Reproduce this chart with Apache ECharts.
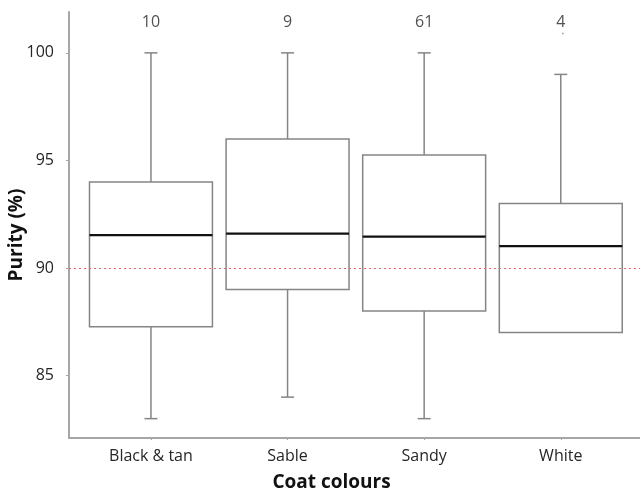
<!DOCTYPE html>
<html><head><meta charset="utf-8">
<script src="https://cdn.jsdelivr.net/npm/echarts@6/dist/echarts.min.js"></script>
<style>html,body{margin:0;padding:0;background:#fff}#c{width:640px;height:494px}</style>
</head><body><div id="c"></div>
<script>
const categories = ['Black & tan', 'Sable', 'Sandy', 'White'];
const counts = [10, 9, 61, 4];
const whiskerLow = [83, 84, 83, 87];
const q1 = [87.27, 89.0, 88.0, 87.0];
const median = [91.53, 91.6, 91.46, 91.02];
const q3 = [94.0, 96.0, 95.25, 93.0];
const whiskerHigh = [100, 100, 100, 99];
const yTicks = [85, 90, 95, 100];
const referenceLine = 90;
const countLabelLevel = 101.41;
const strayPoint = [[4.015, 100.9]];

const FONT = 'Open Sans';
const catPositions = categories.map((c, i) => i + 1);
const boxData = categories.map((c, i) => [i + 1, whiskerLow[i], q1[i], median[i], q3[i], whiskerHigh[i]]);

function renderBox(params, api) {
  const x = api.value(0);
  const band = api.size([1, 0])[0];
  const half = band * 0.45;
  const capHalf = 6.5;
  const low = api.value(1), lq = api.value(2), med = api.value(3), uq = api.value(4), high = api.value(5);
  const pLow = api.coord([x, low]);
  const pQ1 = api.coord([x, lq]);
  const pMed = api.coord([x, med]);
  const pQ3 = api.coord([x, uq]);
  const pHigh = api.coord([x, high]);
  const cx = pMed[0];
  const grey = { stroke: '#858585', lineWidth: 1.5, fill: null };
  const children = [
    { type: 'rect', shape: { x: cx - half, y: pQ3[1], width: 2 * half, height: pQ1[1] - pQ3[1] }, style: { fill: 'rgba(255,255,255,0)', stroke: '#858585', lineWidth: 1.5 } }
  ];
  if (high > uq) {
    children.push({ type: 'line', shape: { x1: cx, y1: pQ3[1], x2: cx, y2: pHigh[1] }, style: grey });
    children.push({ type: 'line', shape: { x1: cx - capHalf, y1: pHigh[1], x2: cx + capHalf, y2: pHigh[1] }, style: grey });
  }
  if (low < lq) {
    children.push({ type: 'line', shape: { x1: cx, y1: pQ1[1], x2: cx, y2: pLow[1] }, style: grey });
    children.push({ type: 'line', shape: { x1: cx - capHalf, y1: pLow[1], x2: cx + capHalf, y2: pLow[1] }, style: grey });
  }
  children.push({ type: 'line', shape: { x1: cx - half, y1: pMed[1], x2: cx + half, y2: pMed[1] }, style: { stroke: '#111', lineWidth: 2.2 } });
  return { type: 'group', children };
}

const chart = echarts.init(document.getElementById('c'), null, { renderer: 'canvas' });
chart.setOption({
  animation: false,
  backgroundColor: '#fff',
  grid: { left: 69, right: 0, top: 12, bottom: 56, containLabel: false, outerBoundsMode: 'none' },
  xAxis: {
    type: 'value', min: 0.4, max: 4.58,
    splitLine: { show: false },
    axisLine: { show: true, lineStyle: { color: '#a6a6a6', width: 2 } },
    axisTick: { show: true, customValues: catPositions, length: 2, lineStyle: { color: '#a6a6a6' } },
    axisLabel: {
      customValues: catPositions, margin: 10,
      formatter: v => categories[Math.round(v) - 1],
      fontFamily: FONT, fontSize: 16, color: '#262626'
    },
    name: 'Coat colours', nameLocation: 'middle', nameGap: 35, nameMoveOverlap: false,
    nameTextStyle: { fontFamily: FONT, fontSize: 19, fontWeight: 'bold', color: '#111', padding: [0, 46, 0, 0] }
  },
  yAxis: {
    type: 'value', min: 82.1, max: 101.9,
    splitLine: { show: false },
    axisLine: { show: true, lineStyle: { color: '#a6a6a6', width: 2 } },
    axisTick: { show: true, customValues: yTicks, length: 3, lineStyle: { color: '#a6a6a6' } },
    axisLabel: { customValues: yTicks, margin: 15, fontFamily: FONT, fontSize: 16, color: '#262626' },
    name: 'Purity (%)', nameLocation: 'middle', nameGap: 43, nameMoveOverlap: false,
    nameTextStyle: { fontFamily: FONT, fontSize: 19, fontWeight: 'bold', color: '#111', padding: [0, 20, 0, 0] }
  },
  series: [
    {
      type: 'custom', renderItem: renderBox, data: boxData,
      encode: { x: 0, y: [1, 2, 3, 4, 5] },
      silent: true, z: 2,
      markLine: {
        silent: true, symbol: 'none', label: { show: false },
        lineStyle: { type: [2, 3], color: '#e8615f', width: 1.2 },
        data: [{ yAxis: referenceLine }]
      }
    },
    {
      type: 'scatter', silent: true, symbolSize: 0,
      data: categories.map((c, i) => [i + 1, countLabelLevel, counts[i]]),
      label: { show: true, position: 'inside', formatter: p => String(p.value[2]), fontFamily: FONT, fontSize: 16, color: '#262626' }
    },
    {
      type: 'scatter', silent: true, symbolSize: 2, data: strayPoint,
      itemStyle: { color: '#9a9a9a' }
    }
  ]
});
</script>
</body></html>
